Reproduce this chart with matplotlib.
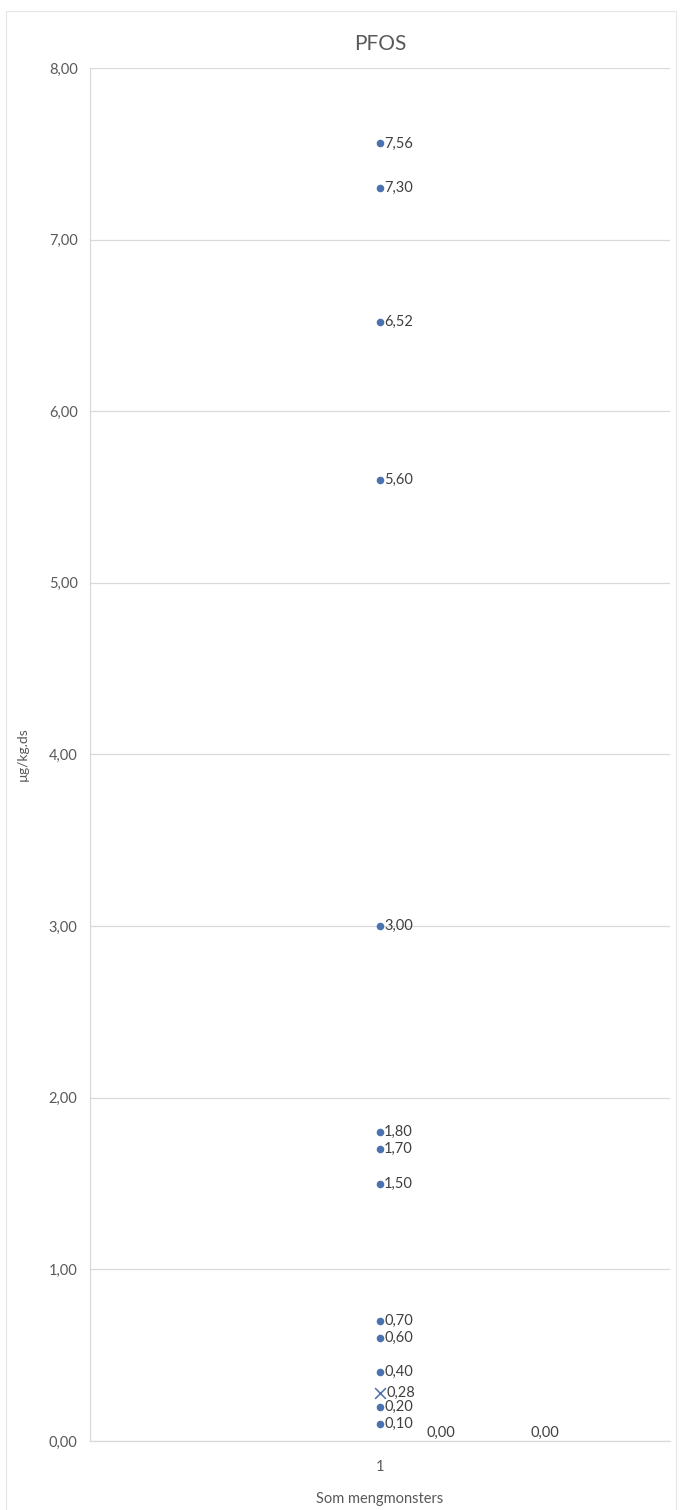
import matplotlib.pyplot as plt
import numpy as np

plt.rcParams['font.family'] = ['Lato', 'DejaVu Sans']

# PFOS values, single category "1"
pfos_vals = [7.56, 7.30, 6.52, 5.60, 3.00, 1.80, 1.70, 1.50, 0.70, 0.60, 0.40, 0.20, 0.10]
mean_val = [0.28]
zero_x = [1.08, 1.26]
zero_vals = [0.00, 0.00]
yticks = [0, 1, 2, 3, 4, 5, 6, 7, 8]

blue = '#4a72b0'
txt = '#404040'

def fmt(v):
   return ('%.2f' % v).replace('.', ',')

fig = plt.figure(figsize=(6.8, 15.1), dpi=100)
# light border around chart
fig.patches.append(plt.Rectangle((0.009, -0.01), 0.985, 1.003, transform=fig.transFigure,
                                 fill=False, edgecolor='#e6e6e6', linewidth=0.8))
ax = fig.add_axes([0.1324, 0.0457, 0.853, 0.9093])

x1 = np.ones(len(pfos_vals))
ax.scatter(x1, pfos_vals, s=20, color=blue, zorder=3)
for v in pfos_vals:
   ax.annotate(fmt(v), (1, v), xytext=(3, 0), textcoords='offset points',
               va='center', ha='left', fontsize=10.5, color=txt)

ax.scatter([1], mean_val, marker='x', s=60, color=blue, linewidths=1.1, zorder=3)
ax.annotate(fmt(mean_val[0]), (1, mean_val[0]), xytext=(5, 0), textcoords='offset points',
            va='center', ha='left', fontsize=10.5, color=txt)

for xv, v in zip(zero_x, zero_vals):
   ax.annotate(fmt(v), (xv, v), xytext=(0, 1), textcoords='offset points',
               va='bottom', ha='left', fontsize=10.5, color=txt)

ax.set_xlim(0.5, 1.5)
ax.set_ylim(0, 8)
ax.set_yticks(yticks)
ax.set_yticklabels([fmt(t) for t in yticks], fontsize=10.5, color='#595959')
ax.set_xticks([1])
ax.set_xticklabels(['1'], fontsize=10.5, color='#595959')
ax.tick_params(length=0, pad=9)
ax.tick_params(axis='x', pad=14)
ax.grid(axis='y', color='#d9d9d9', linewidth=0.9)
ax.set_axisbelow(True)
for s in ['top', 'right']:
   ax.spines[s].set_visible(False)
for s in ['left', 'bottom']:
   ax.spines[s].set_color('#d9d9d9')
   ax.spines[s].set_linewidth(0.9)

ax.set_title('PFOS', fontsize=15, color='#595959', pad=13)
ax.set_ylabel('µg/kg.ds', fontsize=10, color='#595959', labelpad=14)
ax.set_xlabel('Som mengmonsters', fontsize=10.5, color='#595959', labelpad=13)

plt.savefig('out.png', dpi=100)
